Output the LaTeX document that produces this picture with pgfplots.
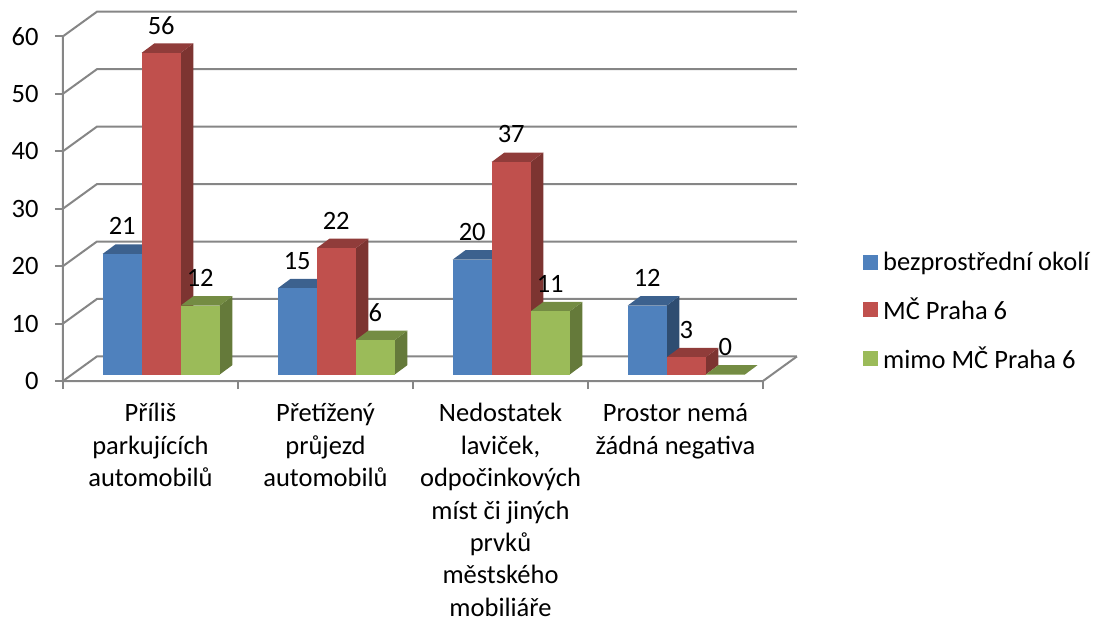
\documentclass[border=0pt]{standalone}
\usepackage{fontspec}
\setmainfont{Carlito}
\usepackage{pgfplots}
\usepackage{pgfplotstable}
\pgfplotsset{compat=1.18}

\definecolor{gridc}{HTML}{868686}
\definecolor{blF}{HTML}{4F81BD}\definecolor{blT}{HTML}{3C618E}\definecolor{blS}{HTML}{2F4D71}
\definecolor{rdF}{HTML}{C0504D}\definecolor{rdT}{HTML}{903C3A}\definecolor{rdS}{HTML}{7D3431}
\definecolor{grF}{HTML}{9BBB59}\definecolor{grT}{HTML}{748C43}\definecolor{grS}{HTML}{657A3A}

\pgfplotstableread{
cat bl rd gr
0 21 56 12
1 15 22 6
2 20 37 11
3 12 3 0
}\datatable

% one 3D column: row, column name, series index, colour prefix
\newcommand{\dbar}[4]{%
  \pgfplotstablegetelem{#1}{#2}\of\datatable
  \pgfmathsetmacro\xa{#1+0.2269+#3*0.2229}
  \pgfmathsetmacro\xb{\xa+0.2229}
  \pgfmathsetmacro\xc{\xa+0.0726}
  \pgfmathsetmacro\xd{\xb+0.0726}
  \pgfmathsetmacro\ya{1.13}
  \pgfmathsetmacro\yb{\ya+\pgfplotsretval}
  \pgfmathsetmacro\yc{\ya+1.64}
  \pgfmathsetmacro\yd{\yb+1.64}
  \addplot[fill=#4S,draw=none,forget plot] coordinates {(\xb,\ya) (\xd,\yc) (\xd,\yd) (\xb,\yb)} --cycle;
  \addplot[fill=#4T,draw=none,forget plot] coordinates {(\xa,\yb) (\xb,\yb) (\xd,\yd) (\xc,\yd)} --cycle;
  \addplot[fill=#4F,draw=none,forget plot] coordinates {(\xa,\ya) (\xb,\ya) (\xb,\yb) (\xa,\yb)} --cycle;
}

\newcommand{\gline}[1]{%
  \pgfmathsetmacro\yy{#1+4.28}
  \addplot[gridc,line width=2pt,forget plot] coordinates {(0,#1) (0.194,\yy) (4.194,\yy)};
}

\begin{document}
\begin{tikzpicture}[x=1pt,y=1pt]
\useasboundingbox (-63,-241) rectangle (1039,381);
\begin{axis}[
    at={(0,0)},anchor=south west,
    scale only axis,width=734pt,height=369pt,
    xmin=0,xmax=4.1943,ymin=0,ymax=64.23,
    clip=false,
    axis x line*=bottom,axis y line*=left,
    axis line style={draw=none},
    tick align=outside,
    major tick length=8pt,
    tick style={gridc,line width=2pt},
    ytick={0,10,...,60},
    xtick={0,1,2,3,4},
    xticklabels={},
    extra x ticks={0.5,1.5,2.5,3.5},
    extra x tick labels={
      {Příliš\\parkujících\\automobilů},
      {Přetížený\\průjezd\\automobilů},
      {Nedostatek\\laviček,\\odpočinkových\\míst či jiných\\prvků\\městského\\mobiliáře},
      {Prostor nemá\\žádná negativa}},
    extra x tick style={major tick length=0pt,tick style={draw=none}},
    x tick label style={align=center,yshift=-19pt,font=\fontsize{26.5}{32.4}\selectfont},
    y tick label style={xshift=-13pt,font=\fontsize{26.5}{30}\selectfont},
    /pgf/number format/assume math mode=true,
    legend style={draw=none,fill=none,at={(797pt,70pt)},anchor=west,
      font=\fontsize{26.5}{30}\selectfont,row sep=21.5pt},
    legend cell align=left,
    legend image code/.code={\path[#1,draw=none] (0pt,-7.5pt) rectangle (15pt,7.5pt);\path[draw=none,fill=none] (0pt,0pt) -- (18pt,0pt);},
  ]
\gline{0}\gline{10}\gline{20}\gline{30}\gline{40}\gline{50}\gline{60}
\addplot[gridc,line width=2pt,forget plot] coordinates {(0,60) (0,0) (4,0) (4.194,4.28)};

\dbar{0}{bl}{0}{bl}\dbar{0}{rd}{1}{rd}\dbar{0}{gr}{2}{gr}
\dbar{1}{bl}{0}{bl}\dbar{1}{rd}{1}{rd}\dbar{1}{gr}{2}{gr}
\dbar{2}{bl}{0}{bl}\dbar{2}{rd}{1}{rd}\dbar{2}{gr}{2}{gr}
\dbar{3}{bl}{0}{bl}\dbar{3}{rd}{1}{rd}\dbar{3}{gr}{2}{gr}

\pgfplotsset{lab/.style={draw=none,mark=none,forget plot,point meta=explicit,
    nodes near coords,
    nodes near coords style={anchor=center,yshift=27.5pt,text=black,font=\fontsize{26.5}{30}\selectfont}}}
\addplot[lab] table[x expr=\thisrow{cat}+0.3384,y expr=\thisrow{bl}+1.13,meta=bl] {\datatable};
\addplot[lab] table[x expr=\thisrow{cat}+0.5613,y expr=\thisrow{rd}+1.13,meta=rd] {\datatable};
\addplot[lab] table[x expr=\thisrow{cat}+0.7842,y expr=\thisrow{gr}+1.13,meta=gr] {\datatable};

\addlegendimage{fill=blF}\addlegendentry{bezprostřední okolí}
\addlegendimage{fill=rdF}\addlegendentry{MČ Praha 6}
\addlegendimage{fill=grF}\addlegendentry{mimo MČ Praha 6}
\end{axis}
\end{tikzpicture}
\end{document}
